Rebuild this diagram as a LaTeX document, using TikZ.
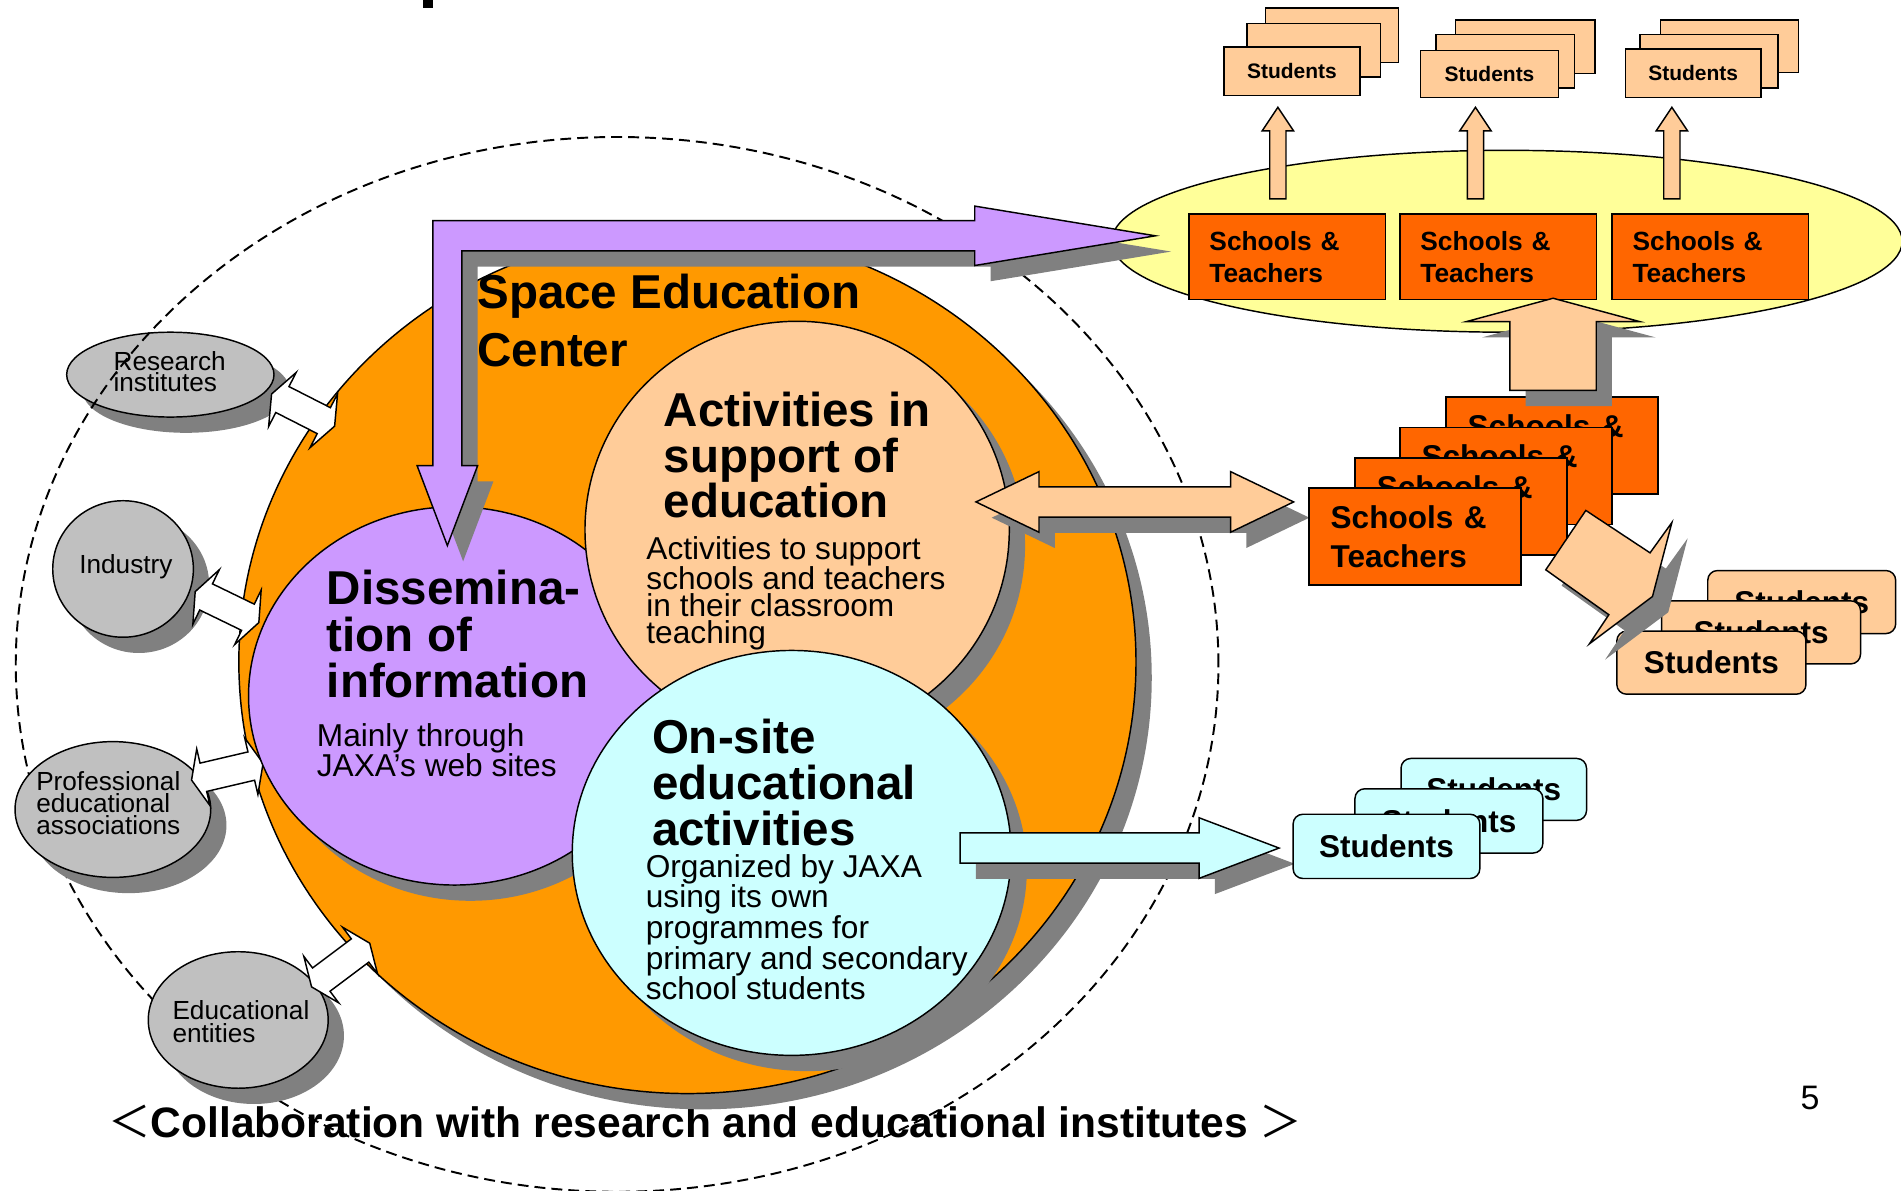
\documentclass[tikz,border=0pt]{standalone}
\usepackage{fontspec}
\setmainfont{Liberation Sans}
\newfontfamily\cjk{Noto Sans CJK JP}
\usepackage{tikz}
\usetikzlibrary{shapes.geometric,shadows,calc}

\definecolor{sedorange}{HTML}{FF9900}
\definecolor{peach}{HTML}{FFCC99}
\definecolor{lilac}{HTML}{CC99FF}
\definecolor{aqua}{HTML}{CCFFFF}
\definecolor{greyell}{HTML}{C0C0C0}
\definecolor{shgrey}{HTML}{808080}
\definecolor{paleyellow}{HTML}{FFFF99}
\definecolor{schoolred}{HTML}{FF6600}

% double block arrow: style, from, to, shaft half, head half, head length
\newcommand{\dblarrow}[6]{%
  \path[#1] (#2) -- ($(#2)!#6!(#3)!#5!90:(#3)$) -- ($(#2)!#6!(#3)!#4!90:(#3)$)
    -- ($(#3)!#6!(#2)!#4!-90:(#2)$) -- ($(#3)!#6!(#2)!#5!-90:(#2)$) -- (#3)
    -- ($(#3)!#6!(#2)!#5!90:(#2)$) -- ($(#3)!#6!(#2)!#4!90:(#2)$)
    -- ($(#2)!#6!(#3)!#4!-90:(#3)$) -- ($(#2)!#6!(#3)!#5!-90:(#3)$) -- cycle;}
% single block arrow: style, from, to, shaft half, head half, head length
\newcommand{\blkarrow}[6]{%
  \path[#1] ($(#2)!#4!90:(#3)$) -- ($(#3)!#6!(#2)!#4!-90:(#2)$)
    -- ($(#3)!#6!(#2)!#5!-90:(#2)$) -- (#3) -- ($(#3)!#6!(#2)!#5!90:(#2)$)
    -- ($(#3)!#6!(#2)!#4!90:(#2)$) -- ($(#2)!#4!-90:(#3)$) -- cycle;}

\begin{document}
\begin{tikzpicture}[x=1pt,y=-1pt,
    sh/.style={drop shadow={shadow xshift=13pt,shadow yshift=-13pt,fill=shgrey,opacity=1}},
    blob/.style={ellipse,draw,line width=1.2pt,inner sep=0pt},
    partner/.style={blob,fill=greyell,sh},
    hd/.style={anchor=base west,inner sep=0pt,align=left,font=\bfseries\fontsize{39.2}{38}\selectfont},
    bd/.style={anchor=base west,inner sep=0pt,align=left,font=\fontsize{26.1}{22}\selectfont},
    gl/.style={anchor=base west,inner sep=0pt,align=left,font=\fontsize{21.6}{18.4}\selectfont},
    schbox/.style={draw,line width=1.2pt,fill=schoolred,anchor=north west,align=left,inner xsep=17pt,inner ysep=0pt,
      text width=128pt,minimum height=70.6pt,font=\bfseries\fontsize{21.7}{26}\selectfont},
    schbig/.style={schbox,inner xsep=18pt,text width=139pt,minimum height=80pt,font=\bfseries\fontsize{26}{32}\selectfont},
    stbox/.style={draw,line width=1.2pt,fill=peach,anchor=north west,inner sep=0pt,font=\bfseries\fontsize{17.3}{20}\selectfont},
    strnd/.style={draw,line width=1.2pt,rounded corners=8pt,anchor=north west,inner sep=0pt,
      minimum height=52pt,font=\bfseries\fontsize{26}{30}\selectfont},
    blk/.style={draw,line width=1.2pt,line join=miter},
  ]
  \useasboundingbox (0,0) rectangle (1568,982);
  \fill (349,0) rectangle (357,7);

  % Collaboration frame (text nodes sit on their last baseline)
  \node[anchor=base west,inner sep=0pt,font=\bfseries\fontsize{35.1}{40}\selectfont] (collabtxt) at (89,938)
    {{\mdseries\cjk ＜}Collaboration with research and educational institutes {\mdseries\cjk ＞}};
  \node[partner,minimum width=171pt,minimum height=70pt] (research) at (140.5,309) {};
  \node[gl,font=\fontsize{21.6}{17.3}\selectfont] (researchtxt) at (93.5,323) {Research\\institutes};
  \node[ellipse,draw,dashed,dash pattern=on 9pt off 5pt,line width=1.6pt,minimum width=992pt,minimum height=870pt] (collab) at (509,548) {};
  \node[partner,minimum width=116pt,minimum height=112.6pt] (industry) at (101.5,469.3) {};
  \node[gl] (industrytxt) at (65.2,473.4) {Industry};
  \node[partner,minimum width=161.4pt,minimum height=112pt] (prof) at (93.1,667.7) {};
  \node[gl] (proftxt) at (29.7,688.5) {Professional\\educational\\associations};
  \node[partner,minimum width=148.4pt,minimum height=112.6pt] (edu) at (196.5,841.3) {};
  \node[gl] (edutxt) at (142.1,859.7) {Educational\\entities};

  % Schools and teachers at the top
  \node[blob,fill=paleyellow,minimum width=652pt,minimum height=150pt] (schools) at (1243,199) {};
  \node[schbox] (sch1) at (980,176) {Schools \&\\Teachers};
  \node[schbox] (sch2) at (1154,176) {Schools \&\\Teachers};
  \node[schbox] (sch3) at (1329,176) {Schools \&\\Teachers};
  \coordinate (up1a) at (1054,164); \coordinate (up1b) at (1054,88.5);
  \coordinate (up2a) at (1217,164); \coordinate (up2b) at (1217,88.5);
  \coordinate (up3a) at (1379,164); \coordinate (up3b) at (1379,88.5);
  \blkarrow{blk,fill=peach}{up1a}{up1b}{6.7pt}{13pt}{19.5pt}
  \blkarrow{blk,fill=peach}{up2a}{up2b}{6.7pt}{13pt}{19.5pt}
  \blkarrow{blk,fill=peach}{up3a}{up3b}{6.7pt}{13pt}{19.5pt}
  \node[stbox,minimum width=110pt,minimum height=45pt] (st1c) at (1043,6) {};
  \node[stbox,minimum width=110pt,minimum height=44pt] (st1b) at (1028,19) {};
  \node[stbox,minimum width=112pt,minimum height=40pt] (st1a) at (1009,38) {Students};
  \node[stbox,minimum width=115pt,minimum height=44pt] (st2c) at (1200,16) {};
  \node[stbox,minimum width=114pt,minimum height=44pt] (st2b) at (1184,28) {};
  \node[stbox,minimum width=114pt,minimum height=39pt] (st2a) at (1171,41) {Students};
  \node[stbox,minimum width=114pt,minimum height=43pt] (st3c) at (1369,16) {};
  \node[stbox,minimum width=114pt,minimum height=44pt] (st3b) at (1352,28) {};
  \node[stbox,minimum width=112pt,minimum height=40pt] (st3a) at (1340,40) {Students};

  % Space Education Center
  \node[blob,fill=sedorange,sh,minimum width=740pt,minimum height=712pt] (sec) at (567,546) {};
  \coordinate (ra1) at (224,325); \coordinate (ra2) at (276,351.5);
  \coordinate (ia1) at (161,488); \coordinate (ia2) at (213.5,513.5);
  \coordinate (pa1) at (158,643.4); \coordinate (pa2) at (217,629.6);
  \coordinate (ea1) at (257,814); \coordinate (ea2) at (305,778);
  \dblarrow{blk,fill=white}{ra1}{ra2}{12pt}{25pt}{10pt}
  \dblarrow{blk,fill=white}{ia1}{ia2}{12pt}{25pt}{10pt}
  \dblarrow{blk,fill=white}{pa1}{pa2}{12pt}{24pt}{10pt}
  \dblarrow{blk,fill=white}{ea1}{ea2}{12pt}{24pt}{10pt}
  \node[blob,fill=lilac,sh,minimum width=340pt,minimum height=312pt] (dissem) at (375,574) {};
  \node[blob,fill=peach,sh,minimum width=350pt,minimum height=344pt] (support) at (657.5,437) {};
  \node[blob,fill=aqua,sh,minimum width=362pt,minimum height=334pt] (onsite) at (653,703.5) {};
  \node[hd,font=\bfseries\fontsize{39.2}{48}\selectfont] (sectxt) at (393.5,302.3) {Space Education\\Center};
  \node[hd,font=\bfseries\fontsize{39.2}{37.5}\selectfont] (supporthd) at (547.4,426.9) {Activities in\\support of\\education};
  \node[bd] (supportbd) at (533,530.6) {Activities to support\\schools and teachers\\in their classroom\\teaching};
  \node[hd] (dissemhd) at (269.4,575) {Dissemina-\\tion of\\information};
  \node[bd,font=\fontsize{26.1}{21.5}\selectfont] (dissembd) at (261.2,640.7) {Mainly through\\JAXA’s web sites};
  \node[hd] (onsitehd) at (537.6,697.4) {On-site\\educational\\activities};
  \node[bd] (onsitebd) at (532.5,824.8) {Organized by JAXA\\using its own\\programmes for\\primary and secondary\\school students};

  % Outgoing arrows
  \path[blk,fill=lilac,sh] (357,182) -- (804,182) -- (804,170) -- (953,194.5) -- (804,219) -- (804,207)
    -- (381,207) -- (381,384) -- (394,384) -- (369,450) -- (344,384) -- (357,384) -- cycle;
  \coordinate (pda1) at (805,414); \coordinate (pda2) at (1067,414);
  \dblarrow{blk,fill=peach,sh}{pda1}{pda2}{12.5pt}{25pt}{52pt}
  \coordinate (cya1) at (792,699.5); \coordinate (cya2) at (1055,699.5);
  \blkarrow{blk,fill=aqua,sh}{cya1}{cya2}{12.5pt}{25pt}{66pt}

  % Schools reached through teachers
  \node[schbig] (schb4) at (1192,327) {Schools \&\\Teachers};
  \node[schbig] (schb3) at (1154,352) {Schools \&\\Teachers};
  \node[schbig] (schb2) at (1117,377) {Schools \&\\Teachers};
  \node[schbig] (schb1) at (1079,402) {Schools \&\\Teachers};
  \coordinate (bigup1) at (1281,322); \coordinate (bigup2) at (1281,246);
  \blkarrow{blk,fill=peach,sh}{bigup1}{bigup2}{35.6pt}{71.6pt}{19.3pt}
  \node[strnd,fill=peach,minimum width=155pt] (pst3) at (1408,470) {Students};
  \node[strnd,fill=peach,minimum width=164pt] (pst2) at (1370,495) {Students};
  \node[strnd,fill=peach,minimum width=156pt] (pst1) at (1333,520) {Students};
  \path[blk,fill=peach,sh] (1275,470) -- (1308,421) -- (1361,456) -- (1379,431) -- (1363,492)
    -- (1311,531) -- (1327,507) -- cycle;

  % Students on site
  \node[strnd,fill=aqua,minimum width=153pt,minimum height=51pt] (cst3) at (1155,625) {Students};
  \node[strnd,fill=aqua,minimum width=155pt,minimum height=53pt] (cst2) at (1117,650) {Students};
  \node[strnd,fill=aqua,minimum width=154pt,minimum height=53pt] (cst1) at (1066,671) {Students};

  \node[anchor=base west,inner sep=0pt,font=\fontsize{28}{30}\selectfont] (pagenum) at (1485,915) {5};
\end{tikzpicture}
\end{document}
